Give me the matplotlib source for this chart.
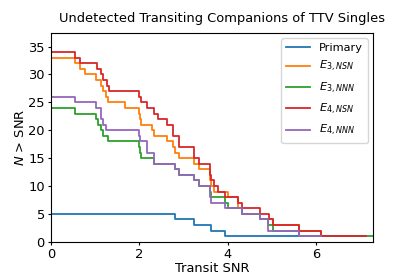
import matplotlib
matplotlib.use("Agg")
import matplotlib.pyplot as plt

# Step curves: x = SNR breakpoints, y = N(>SNR) level starting at that breakpoint
primary_x = [0.0, 2.80, 3.23, 3.62, 3.93, 5.62]
primary_y = [5, 4, 3, 2, 1, 1]

e3nsn_x = [-0.1, 0.0, 0.55, 0.66, 0.76, 1.02, 1.12, 1.18, 1.25, 1.29, 1.67, 1.98, 2.01, 2.04,
           2.29, 2.33, 2.62, 2.77, 2.80, 2.89, 3.23, 3.34, 3.60, 3.62, 3.68, 3.78, 4.00, 4.23,
           4.33, 4.73, 4.91, 5.02, 5.60, 6.11]
e3nsn_y = [34, 33, 32, 31, 30, 29, 28, 27, 26, 25, 24, 23, 22, 21,
           20, 19, 18, 17, 16, 15, 14, 13, 11, 10, 9, 9, 8, 6,
           5, 4, 4, 3, 2, 1]

e3nnn_x = [0.0, 0.55, 1.02, 1.07, 1.12, 1.18, 1.29, 1.98, 2.01, 2.04, 2.33, 2.80, 2.89, 3.23,
           3.34, 3.60, 3.62, 3.93, 4.00, 4.33, 4.73, 4.91, 5.02, 5.60, 6.11, 7.40]
e3nnn_y = [24, 23, 22, 21, 20, 19, 18, 17, 16, 15, 14, 13, 12, 11,
           10, 9, 8, 7, 6, 5, 4, 3, 2, 1, 1, 1]

e4nsn_x = [-0.1, 0.0, 0.55, 0.66, 1.04, 1.14, 1.18, 1.27, 1.31, 1.98, 2.04, 2.16, 2.33, 2.43,
           2.62, 2.77, 2.89, 3.23, 3.34, 3.60, 3.62, 3.68, 3.78, 3.93, 4.23, 4.33, 4.73, 4.94,
           5.01, 5.60, 6.11, 7.13]
e4nsn_y = [38, 34, 33, 32, 31, 30, 29, 28, 27, 26, 25, 24, 23, 22,
           21, 19, 17, 15, 14, 12, 11, 10, 9, 8, 7, 6, 5, 4,
           3, 2, 1, 1]

e4nnn_x = [-0.1, 0.0, 0.55, 1.02, 1.12, 1.14, 1.18, 1.25, 1.29, 1.98, 2.01, 2.16, 2.33, 2.80,
           2.89, 3.23, 3.34, 3.60, 3.62, 3.93, 4.33, 4.73, 4.91, 5.62, 6.10]
e4nnn_y = [29, 26, 25, 24, 23, 22, 21, 20, 20, 19, 18, 16, 14, 13,
           12, 11, 10, 8, 7, 6, 5, 4, 2, 1, 1]

series = [
    ("Primary", primary_x, primary_y, "#1f77b4"),
    (r"$E_{3,NSN}$", e3nsn_x, e3nsn_y, "#ff7f0e"),
    (r"$E_{3,NNN}$", e3nnn_x, e3nnn_y, "#2ca02c"),
    (r"$E_{4,NSN}$", e4nsn_x, e4nsn_y, "#d62728"),
    (r"$E_{4,NNN}$", e4nnn_x, e4nnn_y, "#9467bd"),
]

fs = 9.4
fig = plt.figure(figsize=(4.15, 2.77), dpi=100)
ax = fig.add_axes([0.123, 0.1274, 0.7765, 0.7546])
for label, x, y, c in series:
    ax.step(x, y, where="post", color=c, lw=1.3, label=label)

ax.set_xlim(0, 7.29)
ax.set_ylim(0, 37.5)
ax.set_xticks([0, 2, 4, 6])
ax.set_yticks([0, 5, 10, 15, 20, 25, 30, 35])
ax.tick_params(labelsize=fs, length=2.5, pad=2)
ax.set_xlabel("Transit SNR", fontsize=fs, labelpad=1)
ax.set_ylabel(r"$N$ > SNR", fontsize=fs, labelpad=1)
ax.set_title("Undetected Transiting Companions of TTV Singles", fontsize=fs, pad=8, x=0.53)
ax.legend(loc="upper right", fontsize=8.2, labelspacing=0.55, handlelength=2.1)
fig.savefig("out.png", dpi=100)
